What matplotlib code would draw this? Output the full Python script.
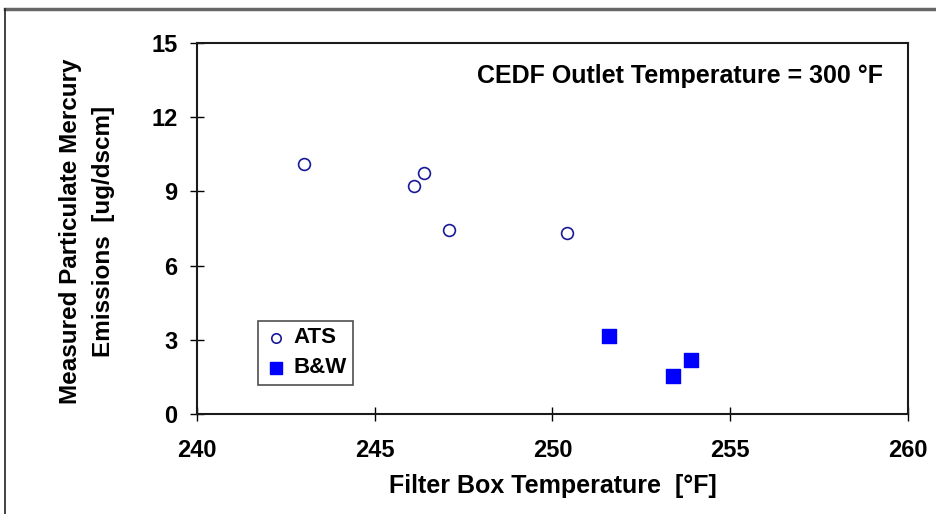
import matplotlib
matplotlib.use("Agg")
import matplotlib.pyplot as plt
from matplotlib.lines import Line2D

plt.rcParams['font.family'] = ['Liberation Sans', 'DejaVu Sans']
plt.rcParams['font.weight'] = 'bold'

# data
ats_temp = [243.0, 246.1, 246.4, 247.1, 250.4]
ats_hg = [10.1, 9.2, 9.75, 7.45, 7.3]
bw_temp = [251.6, 253.4, 253.9]
bw_hg = [3.15, 1.55, 2.2]

x_ticks = [240, 245, 250, 255, 260]
y_ticks = [0, 3, 6, 9, 12, 15]

fig = plt.figure(figsize=(9.37, 5.14), dpi=100)
ax = fig.add_axes([0.2102, 0.1946, 0.969 - 0.2102, 0.9163 - 0.1946])

ax.scatter(ats_temp, ats_hg, s=72, facecolors='white', edgecolors='#1a1a99',
           linewidths=1.2, label='ATS', zorder=3)
ax.scatter(bw_temp, bw_hg, s=100, marker='s', color='#0000ff', label='B&W', zorder=3)

ax.set_xlim(240, 260)
ax.set_ylim(0, 15)
ax.set_xticks(x_ticks)
ax.set_yticks(y_ticks)
ax.tick_params(direction='inout', length=10, width=1.0, labelsize=17)
ax.tick_params(axis='x', pad=13)
ax.tick_params(axis='y', pad=9)
for s in ax.spines.values():
    s.set_linewidth(1.5)
    s.set_color('#1a1a1a')

fig.text(553 / 937, 1 - 493 / 514, 'Filter Box Temperature  [°F]', fontsize=18,
         fontweight='bold', ha='center', va='baseline')
fig.text(87 / 937, 1 - 231 / 514, 'Measured Particulate Mercury\nEmissions  [ug/dscm]',
         fontsize=17.5, fontweight='bold', rotation=90, ha='center', va='center',
         multialignment='center', linespacing=1.6)

fig.text(883 / 937, 1 - 83 / 514, 'CEDF Outlet Temperature = 300 °F',
         ha='right', va='baseline', fontsize=18, fontweight='bold')

leg = ax.legend(loc='lower left', bbox_to_anchor=(0.0858, 0.078), fontsize=16,
                frameon=True, fancybox=False, edgecolor='#222222',
                handletextpad=0.3, handlelength=1.0, borderpad=0.3,
                labelspacing=0.4, markerscale=0.8, borderaxespad=0)
leg.get_frame().set_linewidth(1.2)

# outer frame of the original figure
fig.add_artist(Line2D([5 / 937, 1.0], [1 - 9 / 514, 1 - 9 / 514],
                      transform=fig.transFigure, color='#666666', lw=2.5))
fig.add_artist(Line2D([5 / 937, 5 / 937], [0, 1 - 9 / 514],
                      transform=fig.transFigure, color='#222222', lw=1.2))

fig.savefig('out.png', dpi=100)
